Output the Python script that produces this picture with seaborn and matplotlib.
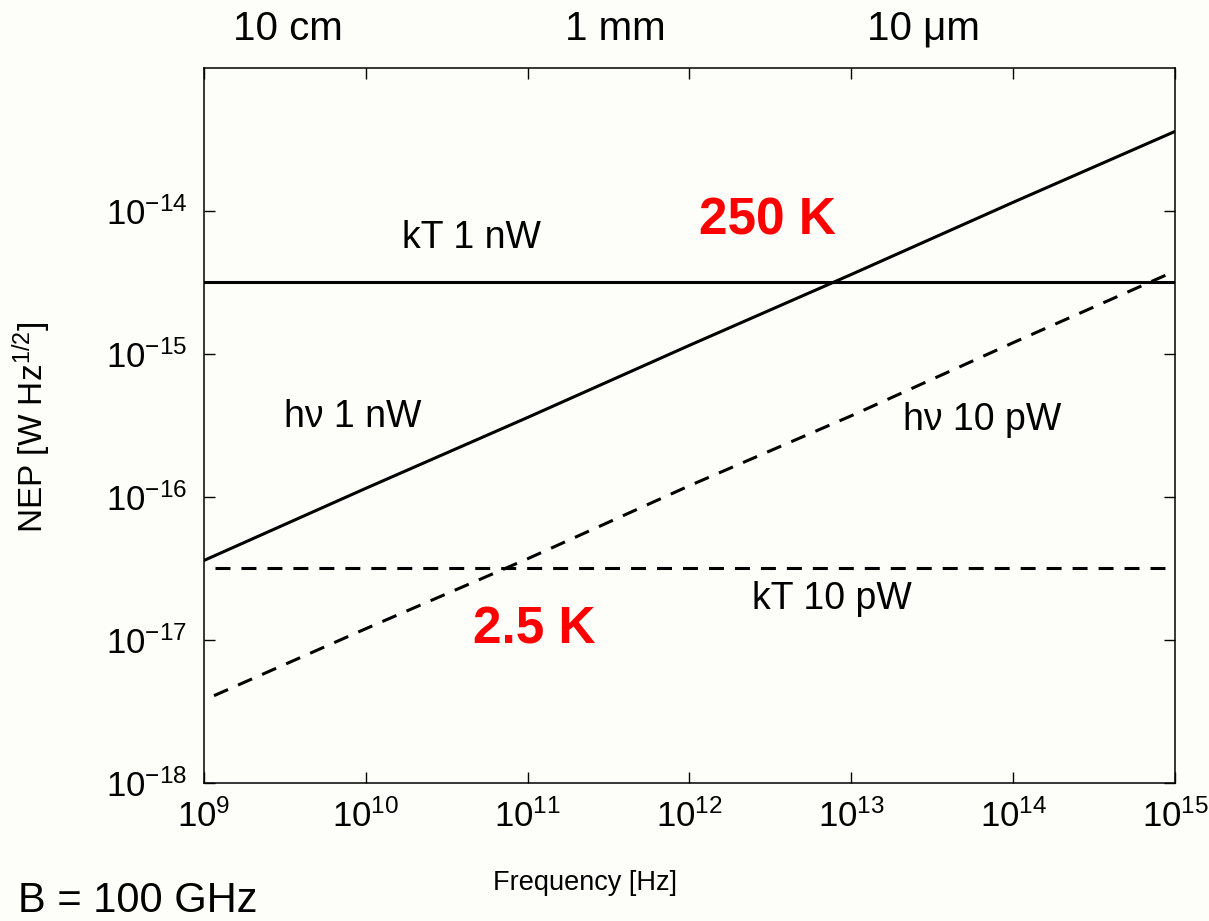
import numpy as np
import pandas as pd
import seaborn as sns
import matplotlib.pyplot as plt

# frequency grid [Hz] (decades) and NEP values [W Hz^-1/2]
freq = [1e9, 1e10, 1e11, 1e12, 1e13, 1e14, 1e15]
nep_hv_1nw = [3.6e-17, 1.15e-16, 3.6e-16, 1.15e-15, 3.6e-15, 1.15e-14, 3.6e-14]
nep_hv_10pw = [3.8e-18, 1.2e-17, 3.7e-17, 1.2e-16, 3.7e-16, 1.2e-15, 3.8e-15]
nep_kt_1nw = [3.2e-15] * 7
nep_kt_10pw = [3.2e-17] * 7

# wavelength labels on the top edge
wl_labels = ["10 cm", "1 mm", "10 \u03bcm"]
wl_freq = [3.3e9, 3.5e11, 2.8e13]

# in-plot annotations: text, x, y
notes = [("kT 1 nW", 10**10.65, 10**-14.19),
         ("h\u03bd 1 nW", 10**9.92, 10**-15.44),
         ("h\u03bd 10 pW", 10**13.81, 10**-15.46),
         ("kT 10 pW", 10**12.88, 10**-16.71)]
temps = [("250 K", 10**12.48, 10**-14.07),
         ("2.5 K", 10**11.04, 10**-16.93)]

sns.set_style("ticks")
bg = "#fdfdf9"
plt.rcParams["font.family"] = ["Liberation Sans", "DejaVu Sans"]
plt.rcParams["mathtext.fontset"] = "custom"
plt.rcParams["mathtext.rm"] = "Liberation Sans"
plt.rcParams["mathtext.default"] = "regular"
for k in ["text.color", "axes.labelcolor", "xtick.color", "ytick.color",
          "axes.edgecolor"]:
    plt.rcParams[k] = "black"

fig = plt.figure(figsize=(12.09, 9.21), dpi=100, facecolor=bg)
ax = fig.add_axes([0.1687, 0.1498, 0.8032, 0.7764], facecolor=bg)

df = pd.DataFrame({"freq": freq, "hv1": nep_hv_1nw, "hv10": nep_hv_10pw,
                   "kt1": nep_kt_1nw, "kt10": nep_kt_10pw})

lw = 2.2
sns.lineplot(data=df, x="freq", y="hv1", ax=ax, color="black", lw=lw)
sns.lineplot(data=df, x="freq", y="kt1", ax=ax, color="black", lw=lw)
sns.lineplot(data=df, x="freq", y="hv10", ax=ax, color="black", lw=lw,
             linestyle=(5.0, (5.0, 3.6)))
sns.lineplot(data=df, x="freq", y="kt10", ax=ax, color="black", lw=lw,
             linestyle=(4.9, (4.9, 3.6)))

ax.set_xscale("log")
ax.set_yscale("log")
ax.set_xlim(1e9, 1e15)
ax.set_ylim(1e-18, 1e-13)
ax.set_xticks(freq)
ax.set_yticks([1e-18, 1e-17, 1e-16, 1e-15, 1e-14])
ax.minorticks_off()
ax.tick_params(which="major", direction="in", length=8, width=1.0,
               top=True, right=True, labelsize=25, pad=12)
for s in ax.spines.values():
    s.set_linewidth(1.1)

ax.set_xlabel("Frequency [Hz]", fontsize=19.5)
ax.set_ylabel("NEP [W Hz$^{\\mathdefault{1/2}}$]", fontsize=24)
ax.xaxis.set_label_coords(0.392, -0.122)
ax.yaxis.set_label_coords(-0.155, 0.497)

trans = ax.get_xaxis_transform()
for lab, f in zip(wl_labels, wl_freq):
    ax.text(f, 1.055, lab, transform=trans, ha="center", va="center",
            fontsize=29)

for t, x, y in notes:
    ax.text(x, y, t, ha="center", va="center", fontsize=27)
for t, x, y in temps:
    ax.text(x, y, t, ha="center", va="center", fontsize=37,
            color="red", fontweight="bold")

fig.text(18 / 1209, 1 - 912 / 921, "B = 100 GHz", ha="left", va="baseline",
         fontsize=30)

fig.savefig("out.png", dpi=100, facecolor=bg)
